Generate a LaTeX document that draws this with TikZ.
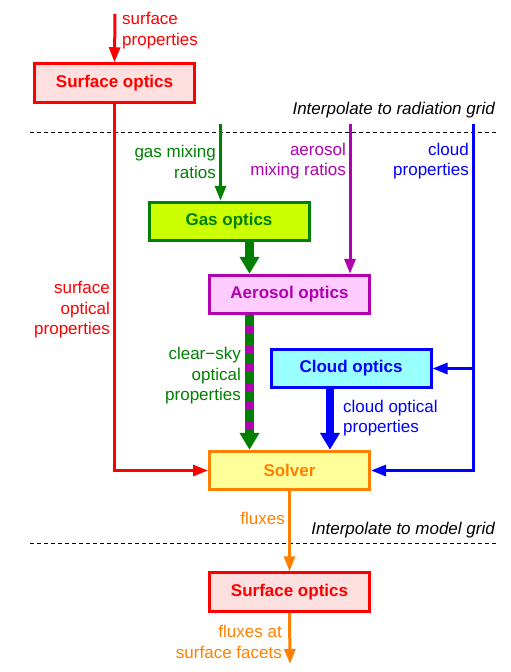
\documentclass[tikz,border=0pt]{standalone}
\usepackage{fontspec}
\setmainfont{Liberation Sans}
\usetikzlibrary{arrows.meta}
\definecolor{cred}{HTML}{FF0000}
\definecolor{cgreen}{HTML}{008000}
\definecolor{cmag}{HTML}{B000B0}
\definecolor{cblue}{HTML}{0000FF}
\definecolor{corange}{HTML}{FF8000}
\definecolor{fpink}{HTML}{FFE0E0}
\definecolor{fgas}{HTML}{CCFF00}
\definecolor{faero}{HTML}{FFCCFF}
\definecolor{fcloud}{HTML}{99FFFF}
\definecolor{fsolver}{HTML}{FFFF99}
\begin{document}
\begin{tikzpicture}[x=1pt, y=-1pt, >={Triangle[length=15pt,width=11pt]},
	box/.style={draw, line width=3pt, minimum width=160pt, minimum height=38.5pt, inner sep=0pt, font=\fontsize{17}{20}\selectfont\bfseries},
	lbl/.style={inner sep=0pt, font=\fontsize{17}{20.5}\selectfont},
	flow/.style={line width=3pt, ->},
	fat/.style={line width=8.5pt, -{Triangle[length=17pt,width=19pt]}},
	gridline/.style={dashed, dash pattern=on 4pt off 3pt, line width=1pt}]
	\useasboundingbox (0,0) rectangle (511,672);
	
	% Các khối chính
	\node[box, draw=cred, fill=fpink, text=cred] (surf1) at (114.5,83) {Surface optics};
	\node[box, draw=cgreen, fill=fgas, text=cgreen] (gas) at (229,221.5) {Gas optics};
	\node[box, draw=cmag, fill=faero, text=cmag] (aero) at (289.5,294.5) {Aerosol optics};
	\node[box, draw=cblue, fill=fcloud, text=cblue] (cloud) at (351,368.5) {Cloud optics};
	\node[box, draw=corange, fill=fsolver, text=corange] (solver) at (289.5,470.5) {Solver};
	\node[box, draw=cred, fill=fpink, text=cred] (surf2) at (289.5,592) {Surface optics};
	
	% Điểm đầu, cuối của các đường
	\coordinate (sprop) at (115,14);
	\coordinate (gasin) at (220.5,124);
	\coordinate (aerin) at (350,124);
	\coordinate (cldin) at (473,124);
	\coordinate (clr) at (249.5,0);
	\coordinate (cld) at (330,0);
	\coordinate (fout) at (290,664);
	
	% Đường nét đứt
	\draw[gridline] (30,132) -- (497,132);
	\draw[gridline] (30,543) -- (497,543);
	\node[lbl, anchor=east, font=\fontsize{17}{20}\selectfont\itshape] (gridrad) at (495,110) {Interpolate to radiation grid};
	\node[lbl, anchor=east, font=\fontsize{17}{20}\selectfont\itshape] (gridmod) at (495,530) {Interpolate to model grid};
	
	% Các mũi tên
	\draw[flow, cred] (sprop) -- (surf1.north);
	\draw[flow, cred] (surf1.south) |- (solver.west);
	\draw[flow, cgreen] (gasin) -- (gasin |- gas.north);
	\draw[fat, cgreen] (gas.south -| clr) -- (aero.north -| clr);
	\draw[flow, cmag] (aerin) -- (aerin |- aero.north);
	\draw[fat, cgreen] (aero.south -| clr) -- (solver.north -| clr);
	\draw[line width=8.5pt, cmag, dash pattern=on 8pt off 11pt, dash phase=8pt, shorten >=17pt] (aero.south -| clr) -- (solver.north -| clr);
	\draw[flow, cblue] (cldin) |- (solver.east);
	\draw[flow, cblue] (cldin |- cloud.east) -- (cloud.east);
	\draw[fat, cblue] (cloud.south -| cld) -- (solver.north -| cld);
	\draw[flow, corange] (solver.south) -- (surf2.north);
	\draw[flow, corange] (surf2.south) -- (fout);
	
	% Chú thích
	\node[lbl, anchor=west, align=left, text=cred] (lsprop) at (122,30.5) {surface\\properties};
	\node[lbl, anchor=east, align=right, text=cred] (lsopt) at (110,310) {surface\\optical\\properties};
	\node[lbl, anchor=east, align=right, text=cgreen] (lgas) at (216,162) {gas mixing\\ratios};
	\node[lbl, anchor=east, align=right, text=cmag] (laer) at (346,161) {aerosol\\mixing ratios};
	\node[lbl, anchor=east, align=right, text=cblue] (lcld) at (469,161) {cloud\\properties};
	\node[lbl, anchor=east, align=right, text=cgreen] (lclr) at (241,376) {clear−sky\\optical\\properties};
	\node[lbl, anchor=west, align=left, text=cblue] (lcopt) at (343,418) {cloud optical\\properties};
	\node[lbl, anchor=east, align=right, text=corange] (lflux) at (285,518) {fluxes};
	\node[lbl, anchor=east, align=right, text=corange] (lfacet) at (282,642) {fluxes at\\surface facets};
\end{tikzpicture}
\end{document}
